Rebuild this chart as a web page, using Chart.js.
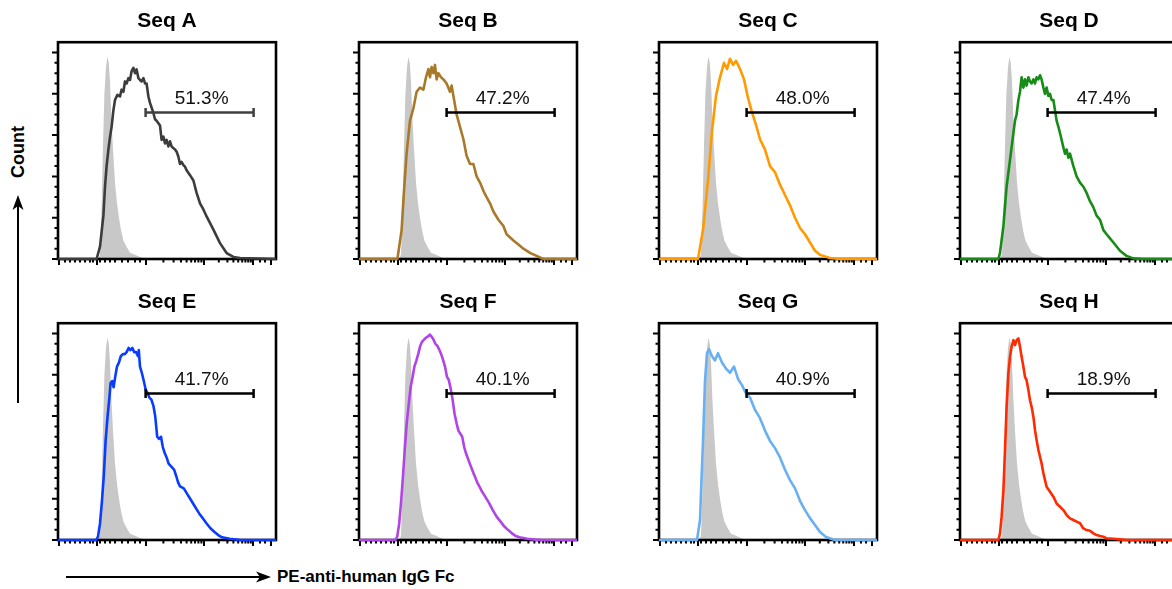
<!DOCTYPE html>
<html>
<head>
<meta charset="utf-8">
<script src="https://cdn.jsdelivr.net/npm/chart.js"></script>
<style>
  html, body { margin: 0; padding: 0; overflow: hidden; background: #fff; }
  #wrap { position: relative; width: 1172px; height: 589px; overflow: hidden; font-family: "Liberation Sans", Arial, sans-serif; }
  #wrap canvas { position: absolute; }
  #wrap svg { position: absolute; left: 0; top: 0; }
  .lbl { position: absolute; font-weight: bold; color: #000; white-space: nowrap; font-size: 17px; }
  #ylab { left: 18px; top: 152px; font-size: 18px; transform: translate(-50%, -50%) rotate(-90deg); }
  #xlab { left: 277px; top: 577px; transform: translateY(-50%); }
</style>
</head>
<body>
<div id="wrap">
  <svg width="1172" height="589">
    <line x1="18" y1="403" x2="18" y2="206" stroke="#000" stroke-width="2"/>
    <polygon points="18,195 12.5,210 18,206 23.5,210" fill="#000"/>
    <line x1="66" y1="577" x2="260" y2="577" stroke="#000" stroke-width="2"/>
    <polygon points="271,577 256,571.5 260,577 256,582.5" fill="#000"/>
  </svg>
  <div class="lbl" id="ylab">Count</div>
  <div class="lbl" id="xlab">PE-anti-human IgG Fc</div>
</div>
<script>
// axis ticks (channel units on x, % of max on y)
const xTicksMajor = [5, 195, 440, 730, 975, 1065];
const xTicksMinor = [35, 60, 85, 110, 135, 160, 175, 210, 235, 260, 285, 320, 350, 385, 410,
  527, 578, 615, 643, 666, 685, 702, 717, 804, 847, 877, 901, 921, 937, 951, 964, 1010, 1035];
const yTicksMajor = [0, 20, 40, 60, 80, 100];
const yTicksMinor = [5, 10, 15, 25, 30, 35, 45, 50, 55, 65, 70, 75, 85, 90, 95];

const seqTitles = ["Seq A", "Seq B", "Seq C", "Seq D", "Seq E", "Seq F", "Seq G", "Seq H"];
const seqPct = ["51.3%", "47.2%", "48.0%", "47.4%", "41.7%", "40.1%", "40.9%", "18.9%"];

// positive gate
const gateLo = 438;
const gateHi = 978;
const gateLevel = 71;

// isotype control (grey fill, same in every panel)
const ctrlX = [200, 210, 218, 225, 232, 240, 247, 254, 260, 267, 275, 285, 295, 305, 315, 327, 342, 360, 385, 410, 440];
const ctrlY = [0, 2, 26, 55, 80, 93, 98, 95, 86, 68, 53, 37, 27, 20, 14, 9, 6, 3, 2, 1, 0];

const seqAX = [0, 193, 210, 227, 235, 243, 252, 260, 268, 277, 285, 297, 310, 318, 327, 335, 343, 352, 360, 368,
  377, 385, 393, 402, 410, 418, 427, 435, 443, 452, 460, 477, 485, 493, 510, 518, 527, 535, 543, 552,
  560, 568, 577, 585, 593, 602, 610, 618, 627, 635, 643, 660, 677, 693, 710, 727, 743, 777, 810, 843, 877, 910, 1090];
const seqAY = [0, 0, 6, 21, 35, 45, 53, 59, 64, 72, 77, 79.5, 78.7, 82, 81, 86, 85, 87.6, 86.7, 91,
  92.6, 90, 91.8, 87.6, 86.7, 86, 87.6, 85, 85, 78.7, 75.6, 70.7, 67.7, 67, 64.7, 57.7, 59.3, 56, 57.7, 54.5,
  57, 54.5, 53.7, 53, 52, 49.5, 46, 47, 45.5, 44.7, 43, 40.6, 38, 32, 27, 24, 20.6, 14.2, 7.7, 2.9, 1, 0.5, 0];

const seqBX = [0, 192, 213, 225, 238, 255, 272, 288, 305, 322, 335, 347, 355, 363, 372, 380, 388, 397, 410, 422,
  438, 455, 463, 472, 488, 505, 522, 538, 555, 572, 588, 605, 622, 638, 655, 672, 697, 722, 738, 772,
  797, 822, 855, 888, 922, 1090];
const seqBY = [0, 0, 14, 33, 51, 67, 73, 81, 83, 82, 88, 92, 88, 93, 90, 94, 87, 90, 88, 87,
  85, 81, 84, 79, 70, 64, 58, 50, 46, 46, 40, 37, 33, 30, 27, 23, 19, 16, 12, 9,
  7, 5, 3, 1.5, 0, 0];

const seqCX = [0, 195, 220, 245, 265, 285, 305, 325, 340, 355, 370, 385, 405, 425, 445, 465, 485, 505, 530, 555,
  580, 605, 630, 655, 680, 705, 730, 755, 780, 805, 855, 905, 1090];
const seqCY = [0, 0, 14, 38, 62, 79, 88, 95, 92, 97, 94, 96, 92, 87, 78, 71, 65, 58, 53, 45,
  42, 36, 31, 26, 20, 15, 12, 8, 4, 2, 0.5, 0, 0];

const seqDX = [0, 192, 200, 217, 233, 250, 267, 275, 283, 292, 300, 308, 317, 325, 333, 342, 350, 358, 367, 375,
  383, 392, 400, 408, 417, 425, 433, 442, 450, 458, 467, 475, 483, 492, 500, 517, 525, 533, 542, 550,
  567, 583, 600, 617, 633, 650, 667, 683, 700, 717, 733, 750, 767, 800, 833, 867, 917, 1090];
const seqDY = [0, 0, 3, 16, 35, 48, 61, 67, 70, 77, 81, 88, 83, 87, 84, 88, 86, 85, 87, 85,
  88, 87, 89, 87, 83, 80, 83, 79, 80, 77, 77, 72, 67, 64, 61, 54, 51, 53, 49, 51,
  45, 40, 37, 35, 32, 28, 25, 21, 19, 14, 12, 10, 8, 4, 1.5, 0.3, 0, 0];

const seqEX = [0, 191, 200, 210, 219, 229, 238, 248, 257, 263, 271, 278, 286, 295, 305, 314, 324, 334, 343, 353,
  362, 372, 381, 391, 400, 404, 410, 419, 429, 438, 448, 457, 467, 477, 486, 496, 505, 515, 524, 534,
  543, 553, 562, 572, 581, 591, 600, 610, 629, 648, 667, 686, 705, 724, 743, 762, 781, 801, 820, 858,
  915, 1090];
const seqEY = [0, 0, 1.6, 8, 18, 31, 48, 60, 69, 76, 77, 74, 79, 84, 86, 89, 90, 90, 91, 93,
  92, 93, 91, 91, 89, 92, 84, 81, 77, 73, 71, 69, 68, 65, 60, 50, 49, 50, 45, 42,
  40, 37, 36, 35, 34, 31, 28, 26, 25, 22, 19, 16, 13, 10.5, 8, 5.7, 4, 2.4, 1.3, 0.6,
  0, 0];

const seqFX = [0, 182, 191, 201, 210, 220, 229, 239, 249, 258, 268, 277, 287, 296, 306, 315, 325, 335, 344, 354,
  363, 373, 382, 392, 402, 411, 421, 430, 440, 449, 459, 468, 478, 488, 497, 516, 526, 535, 554, 574,
  593, 612, 631, 650, 669, 688, 707, 727, 746, 765, 784, 803, 841, 880, 918, 1090];
const seqFY = [0, 0, 1.6, 8, 18, 31, 44, 57, 66, 74, 79, 84, 87, 90, 94, 96, 97, 98, 98.5, 99.5,
  98.5, 97, 95, 94, 92, 90, 87, 84, 79, 77.5, 73, 68, 61, 56.5, 53, 50, 45, 42, 37, 32,
  27.5, 24, 21, 18, 14.5, 11.3, 9, 6.5, 4.8, 3.2, 1.9, 1.3, 0.6, 0.2, 0, 0];

const seqGX = [0, 190, 205, 220, 230, 240, 250, 265, 280, 295, 315, 335, 355, 375, 395, 415, 435, 455, 480, 505,
  530, 555, 580, 605, 630, 655, 680, 705, 730, 755, 780, 805, 835, 880, 1090];
const seqGY = [0, 0, 9.7, 48, 77, 90.5, 92.4, 89, 87, 90.5, 86, 83, 81, 84, 78, 75, 71, 69, 63, 59,
  53, 48, 44.5, 40, 34, 29, 25, 19, 14.5, 10.6, 7.3, 3.9, 1.5, 0, 0];

const seqHX = [0, 192, 200, 208, 217, 225, 233, 242, 250, 258, 267, 275, 283, 292, 300, 308, 317, 325, 333, 342,
  350, 358, 367, 375, 383, 392, 400, 408, 417, 425, 433, 450, 467, 483, 500, 517, 533, 550, 567, 583,
  600, 617, 633, 650, 667, 683, 700, 717, 733, 767, 800, 833, 1090];
const seqHY = [0, 0, 3.2, 11.3, 24, 43.6, 64.5, 80.7, 88.7, 93.6, 96.8, 94.4, 96.8, 97.6, 93.6, 88.7, 83.9, 79, 77.4, 72.6,
  67.7, 64.5, 59.7, 53.2, 48.4, 43.6, 40.3, 37.1, 32.3, 29, 25.8, 23.4, 21, 17.7, 16.1, 14.5, 12.1, 10.5, 9.7, 8.9,
  8.1, 5.6, 4.8, 4.5, 3.2, 2.4, 1.9, 1.6, 0.8, 0.6, 0.3, 0, 0];

const seriesX = [seqAX, seqBX, seqCX, seqDX, seqEX, seqFX, seqGX, seqHX];
const seriesY = [seqAY, seqBY, seqCY, seqDY, seqEY, seqFY, seqGY, seqHY];

// styles
const lineColors = ["#3c3c3c", "#a8792a", "#ff9a00", "#168c16", "#0a3cff", "#b044e6", "#68b0f2", "#ff2a00"];
const gateColors = ["#404040", "#000", "#000", "#000", "#000", "#000", "#000", "#000"];
const boxLeft = [58, 359, 659, 960];
const rowTop = [0, 281];
const fontFamily = '"Liberation Sans", Arial, sans-serif';

function toPoints(xs, ys) {
  return xs.map((x, k) => ({ x: x, y: ys[k] }));
}

// frame, ticks, gate and percentage
const panelFrame = {
  id: "panelFrame",
  afterDatasetDraw(chart, args) {
    if (args.index !== 1) return; // right after the grey control
    const ctx = chart.ctx;
    const a = chart.chartArea;
    const xs = chart.scales.x;
    const ys = chart.scales.y;
    ctx.save();
    ctx.strokeStyle = "#000";
    ctx.lineWidth = 2;
    ctx.beginPath();
    xTicksMajor.forEach(v => {
      const px = xs.getPixelForValue(v);
      ctx.moveTo(px, a.bottom);
      ctx.lineTo(px, a.bottom + 6);
    });
    xTicksMinor.forEach(v => {
      const px = xs.getPixelForValue(v);
      ctx.moveTo(px, a.bottom);
      ctx.lineTo(px, a.bottom + 3.5);
    });
    yTicksMajor.forEach(v => {
      const py = ys.getPixelForValue(v);
      ctx.moveTo(a.left, py);
      ctx.lineTo(a.left - 6, py);
    });
    yTicksMinor.forEach(v => {
      const py = ys.getPixelForValue(v);
      ctx.moveTo(a.left, py);
      ctx.lineTo(a.left - 3.5, py);
    });
    ctx.stroke();
    ctx.lineWidth = 2.6;
    ctx.strokeRect(a.left, a.top, a.right - a.left, a.bottom - a.top);
    ctx.restore();
  },
  afterDatasetsDraw(chart, args, opts) {
    const ctx = chart.ctx;
    const xs = chart.scales.x;
    const ys = chart.scales.y;
    const x1 = xs.getPixelForValue(gateLo);
    const x2 = xs.getPixelForValue(gateHi);
    const yy = ys.getPixelForValue(gateLevel);
    ctx.save();
    ctx.strokeStyle = opts.color;
    ctx.lineWidth = 2.5;
    ctx.beginPath();
    ctx.moveTo(x1, yy);
    ctx.lineTo(x2, yy);
    ctx.moveTo(x1, yy - 4.5);
    ctx.lineTo(x1, yy + 4.5);
    ctx.moveTo(x2, yy - 4.5);
    ctx.lineTo(x2, yy + 4.5);
    ctx.stroke();
    ctx.fillStyle = "#111";
    ctx.font = "19px " + fontFamily;
    ctx.textAlign = "center";
    ctx.textBaseline = "alphabetic";
    ctx.fillText(opts.label, (x1 + x2) / 2 + 2, yy - 8);
    ctx.restore();
  }
};

const wrap = document.getElementById("wrap");

seqTitles.forEach((title, i) => {
  const canvas = document.createElement("canvas");
  canvas.width = 236;
  canvas.height = 271;
  canvas.style.width = "236px";
  canvas.style.height = "271px";
  canvas.style.left = (boxLeft[i % 4] - 12) + "px";
  canvas.style.top = rowTop[Math.floor(i / 4)] + "px";
  wrap.appendChild(canvas);

  new Chart(canvas, {
    type: "line",
    data: {
      datasets: [
        {
          label: title,
          data: toPoints(seriesX[i], seriesY[i]),
          borderColor: lineColors[i],
          borderWidth: 2.6,
          borderJoinStyle: "round",
          pointRadius: 0,
          tension: 0,
          fill: false,
          clip: 4,
          order: 0
        },
        {
          label: "Control",
          data: toPoints(ctrlX, ctrlY),
          borderWidth: 0,
          borderColor: "rgba(0,0,0,0)",
          backgroundColor: "#c8c8c8",
          pointRadius: 0,
          tension: 0,
          fill: "origin",
          order: 1
        }
      ]
    },
    options: {
      responsive: false,
      animation: false,
      devicePixelRatio: 1,
      layout: { padding: { left: 12, right: 6, top: 0, bottom: 12 } },
      scales: {
        x: { type: "linear", min: 0, max: 1090, display: false },
        y: { type: "linear", min: 0, max: 105, display: false }
      },
      plugins: {
        legend: { display: false },
        tooltip: { enabled: false },
        title: {
          display: true,
          text: title,
          color: "#000",
          font: { family: fontFamily, size: 21, weight: "bold" },
          padding: { top: 9, bottom: 8 }
        },
        panelFrame: { label: seqPct[i], color: gateColors[i] }
      }
    },
    plugins: [panelFrame]
  });
});
</script>
</body>
</html>
